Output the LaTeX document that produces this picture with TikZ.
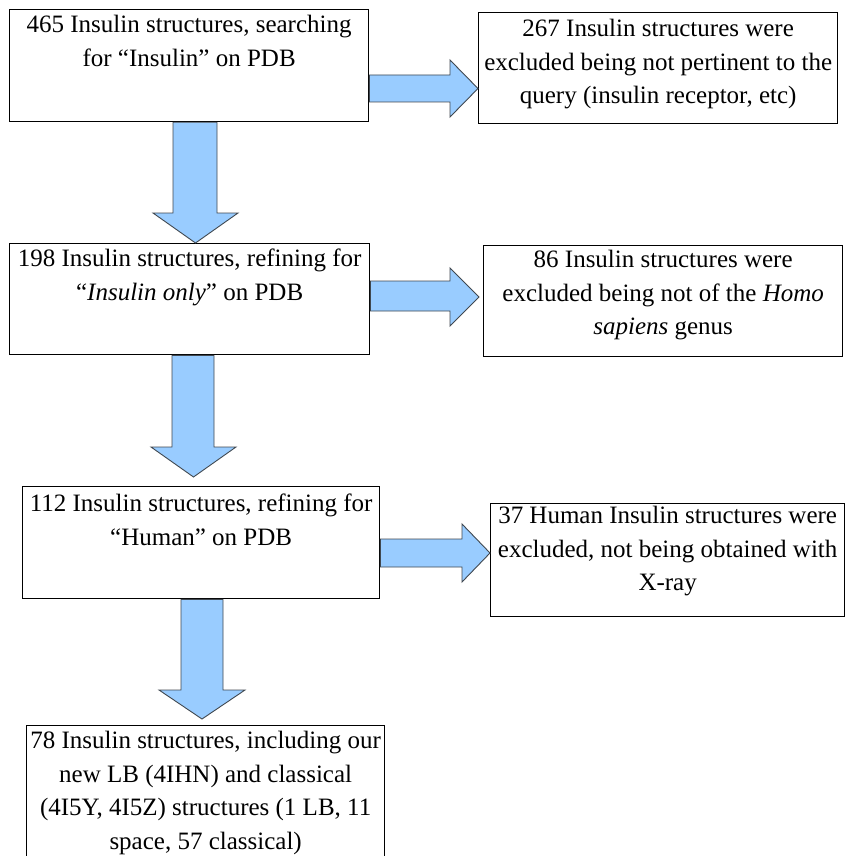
\documentclass[tikz,border=0pt]{standalone}
\usepackage{fontspec}
\setmainfont{Liberation Serif}
\definecolor{arrowfill}{HTML}{99CCFF}
\definecolor{arrowline}{HTML}{404850}
\newcommand{\bx}[4][23pt]{\parbox[c][#3][t]{#2}{\centering\rule{0pt}{#1}#4}}
\tikzset{
  box/.style={draw=black, line width=1.3pt, fill=white, rectangle, inner sep=0pt, anchor=north west,
    font=\fontsize{25}{33.5}\selectfont},
  blockarrow/.style={draw=arrowline, fill=arrowfill, line width=0.9pt, line join=miter}
}
\begin{document}
\begin{tikzpicture}[x=1pt,y=-1pt]
\useasboundingbox (0,0) rectangle (845,856);
% boxes
\node[box] (b1) at (9,9) {\bx{359pt}{112pt}{465 Insulin structures,\ searching\\for ``Insulin'' on PDB}};
\node[box] (r1) at (478,12) {\bx[24pt]{359pt}{111pt}{267 Insulin structures were\\excluded being not pertinent to the\\query (insulin receptor, etc)}};
\node[box] (b2) at (9,243) {\bx{360pt}{111pt}{198 Insulin structures, refining for\\``\textit{Insulin only}'' on PDB}};
\node[box] (r2) at (483,245) {\bx[22pt]{359pt}{111pt}{86 Insulin structures were\\excluded being not of the \textit{Homo}\\\textit{sapiens} genus}};
\node[box] (b3) at (22,486) {\bx[25pt]{357pt}{112pt}{112 Insulin structures, refining for\\``Human'' on PDB}};
\node[box] (r3) at (490,503) {\bx[20pt]{354pt}{113pt}{37 Human Insulin structures were\\excluded, not being obtained with\\X-ray}};
\node[box] (b4) at (26,725) {\bx{358pt}{150pt}{78 Insulin structures, including our\\new LB (4IHN) and classical\\(4I5Y, 4I5Z) structures (1 LB, 11\\space, 57 classical)}};
% horizontal block arrows
\draw[blockarrow] (b1.east |- 0,75) -- (450,75) -- (450,60) -- (r1.west |- 0,88.5) -- (450,117) -- (450,102) -- (b1.east |- 0,102) -- cycle;
\draw[blockarrow] (b2.east |- 0,281) -- (450,281) -- (450,268) -- (479,297) -- (450,326) -- (450,311) -- (b2.east |- 0,311) -- cycle;
\draw[blockarrow] (b3.east |- 0,539) -- (462,539) -- (462,524) -- (r3.west |- 0,553) -- (462,582) -- (462,567) -- (b3.east |- 0,567) -- cycle;
% vertical block arrows
\draw[blockarrow] (173,0 |- b1.south) -- (173,213) -- (153,213) -- (195.5,0 |- b2.north) -- (238,213) -- (217,213) -- (217,0 |- b1.south) -- cycle;
\draw[blockarrow] (172,0 |- b2.south) -- (172,447) -- (151,447) -- (193.5,477) -- (236,447) -- (214,447) -- (214,0 |- b2.south) -- cycle;
\draw[blockarrow] (181,0 |- b3.south) -- (181,690) -- (159,690) -- (202,719) -- (245,690) -- (223,690) -- (223,0 |- b3.south) -- cycle;
\end{tikzpicture}
\end{document}
